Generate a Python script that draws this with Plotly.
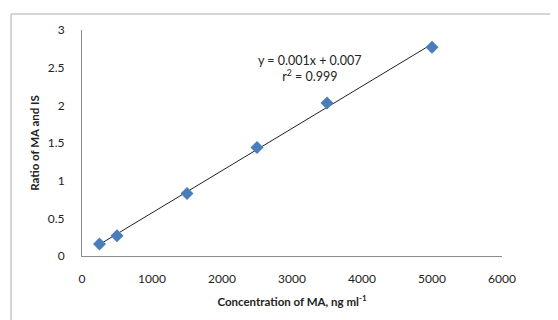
import numpy as np
import plotly.graph_objects as go

concentration = [250, 500, 1500, 2500, 3500, 5000]
ratio = [0.16, 0.27, 0.83, 1.44, 2.03, 2.77]
x_ticks = [0, 1000, 2000, 3000, 4000, 5000, 6000]
y_ticks = [0, 0.5, 1, 1.5, 2, 2.5, 3]
y_tick_text = ["0", "0.5", "1", "1.5", "2", "2.5", "3"]

slope, intercept = np.polyfit(concentration, ratio, 1)
fit_x = [min(concentration), max(concentration)]
fit_y = [slope * v + intercept for v in fit_x]

fig = go.Figure()
fig.add_trace(go.Scatter(x=fit_x, y=fit_y, mode="lines",
                         line=dict(color="#222222", width=1), hoverinfo="skip"))
fig.add_trace(go.Scatter(x=concentration, y=ratio, mode="markers",
                         marker=dict(symbol="diamond", size=10, color="#4a7ebb",
                                     line=dict(width=0))))

font = "Lato, 'Open Sans', sans-serif"
fig.update_layout(
    width=558, height=320,
    margin=dict(l=74, r=64, t=22, b=72, autoexpand=False),
    paper_bgcolor="white", plot_bgcolor="white",
    showlegend=False,
    font=dict(family=font, size=12, color="#222222"),
    xaxis=dict(range=[0, 6000], tickvals=x_ticks, showgrid=False, zeroline=False,
               showline=True, linecolor="#8c8c8c", linewidth=1, automargin=False,
               ticks="", ticklabelstandoff=12,
               title=dict(text="<b>Concentration of MA, ng ml<sup>-1</sup></b>",
                          font=dict(size=11.5), standoff=12)),
    yaxis=dict(range=[0, 3], tickvals=y_ticks, ticktext=y_tick_text, showgrid=False,
               zeroline=False, showline=True, linecolor="#8c8c8c", linewidth=1,
               automargin=False, ticks="", ticklabelstandoff=14,
               title=dict(text="<b>Ratio of MA and IS</b>", font=dict(size=11.5), standoff=5)),
    annotations=[
        dict(x=0.543, y=0.905, xref="paper", yref="paper", showarrow=False,
             text="y = 0.001x + 0.007<br>r<sup>2</sup> = 0.999",
             font=dict(size=12.5, color="#222222"), align="center"),
    ],
    shapes=[
        dict(type="line", xref="paper", yref="paper", x0=-0.169, y0=-0.5, x1=-0.169, y1=1.071,
             line=dict(color="#c8c8c8", width=1.5)),
        dict(type="line", xref="paper", yref="paper", x0=-0.169, y0=1.071, x1=1.5, y1=1.071,
             line=dict(color="#c8c8c8", width=1.5)),
    ],
)

fig.write_html("out.html")
